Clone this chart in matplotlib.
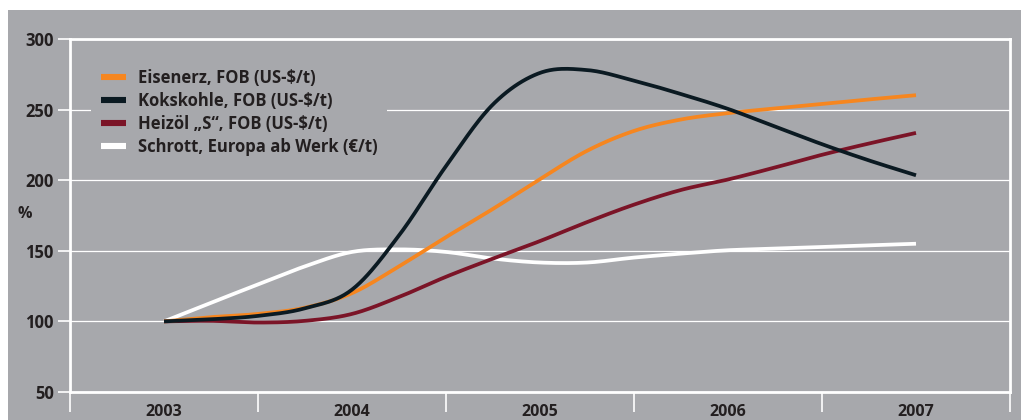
import numpy as np
import matplotlib
matplotlib.use("Agg")
import matplotlib.pyplot as plt
from matplotlib.patches import Rectangle

# Category axis: one slot per year
years = ["2003", "2004", "2005", "2006", "2007"]

# Quarterly sampling positions (years after 2003)
quarters = [0.0, 0.25, 0.5, 0.75, 1.0, 1.25, 1.5, 1.75, 2.0,
            2.25, 2.5, 2.75, 3.0, 3.25, 3.5, 3.75, 4.0]

# Price index, 2003 = 100
eisenerz = [100, 103, 105.3, 109.7, 120, 139, 159.7, 179.7, 200.8,
            220.8, 234.9, 243, 247.5, 250.8, 254, 257.2, 260.2]
kokskohle = [100, 101.5, 103.9, 109.3, 122.5, 160.9, 210, 253.7, 276,
             278, 270.5, 261, 250.5, 238, 225.5, 214, 203.5]
heizoel = [100, 100.4, 99.2, 100.4, 105.3, 117.3, 131.6, 144.5, 156.9,
           170.3, 182.7, 193.1, 200.5, 209, 218, 226, 233.5]
schrott = [100, 113.2, 126.2, 139, 149.2, 151, 149.2, 144.5, 141.7,
           141.7, 145.2, 148, 150.4, 151.5, 152.7, 153.9, 155]

series_labels = ["Eisenerz, FOB (US-$/t)", "Kokskohle, FOB (US-$/t)",
                 "Heizöl \u201eS\u201c, FOB (US-$/t)", "Schrott, Europa ab Werk (€/t)"]
series_colors = ["#f6861f", "#0b1a22", "#7b1427", "#ffffff"]

y_ticks = [50, 100, 150, 200, 250, 300]

BG = "#a7a8ac"
TXT = "#231f20"
FONT = ["Open Sans", "DejaVu Sans"]
WEIGHT = "bold"


def smooth(x, y, n=24):
    """Catmull-Rom spline through the sample points."""
    x = np.asarray(x, float)
    y = np.asarray(y, float)
    m = np.empty_like(y)
    m[1:-1] = (y[2:] - y[:-2]) / (x[2:] - x[:-2])
    m[0] = (y[1] - y[0]) / (x[1] - x[0])
    m[-1] = (y[-1] - y[-2]) / (x[-1] - x[-2])
    xs, ys = [], []
    for i in range(len(x) - 1):
        h = x[i + 1] - x[i]
        t = np.linspace(0, 1, n, endpoint=(i == len(x) - 2))
        h00 = 2 * t**3 - 3 * t**2 + 1
        h10 = t**3 - 2 * t**2 + t
        h01 = -2 * t**3 + 3 * t**2
        h11 = t**3 - t**2
        xs.append(x[i] + t * h)
        ys.append(h00 * y[i] + h10 * h * m[i] + h01 * y[i + 1] + h11 * h * m[i + 1])
    return np.concatenate(xs), np.concatenate(ys)


plt.rcParams["font.family"] = FONT
plt.rcParams["font.weight"] = WEIGHT

fig = plt.figure(figsize=(10.21, 4.20), dpi=100)
fig.patch.set_facecolor("white")
fig.patches.append(Rectangle((8 / 1021, 0), 1 - 8 / 1021, 410 / 420,
                             transform=fig.transFigure, facecolor=BG,
                             edgecolor="none", zorder=-5))

ax = fig.add_axes([70 / 1021, 28 / 420, 940 / 1021, 353 / 420])
ax.set_zorder(1)
ax.set_facecolor(BG)
ax.set_xlim(-0.5, len(years) - 0.5)
ax.set_ylim(50, 300)

for sp in ax.spines.values():
    sp.set_color("white")
    sp.set_linewidth(2.0)

ax.set_yticks(y_ticks)
ax.set_yticklabels([str(v) for v in y_ticks])
ax.yaxis.grid(True, color="white", linewidth=0.9)
ax.set_axisbelow(True)
ax.tick_params(axis="y", colors="white", length=8.6, width=1.2, pad=3,
               labelcolor=TXT, labelsize=12)

ax.set_xticks(range(len(years)))
ax.set_xticklabels(years)
ax.set_xticks(np.arange(-0.5, len(years), 1.0), minor=True)
ax.tick_params(axis="x", which="major", length=0, pad=9, labelcolor=TXT, labelsize=11.5)
ax.tick_params(axis="x", which="minor", colors="white", length=14.4, width=1.2)

fig.text(25 / 1021, 1 - 214 / 420, "%", ha="center", va="center",
         color=TXT, fontsize=11.5, fontweight=WEIGHT, zorder=2)

order = [3, 2, 0, 1]
lines = {}
data = [eisenerz, kokskohle, heizoel, schrott]
for i in order:
    sx, sy = smooth(quarters, data[i])
    ln, = ax.plot(sx, sy, color=series_colors[i], linewidth=2.7,
                  solid_capstyle="butt", label=series_labels[i], zorder=3 + order.index(i))
    lines[i] = ln

leg = ax.legend([lines[i] for i in range(4)], series_labels,
                loc="upper left", bbox_to_anchor=(21 / 940, 1 - 20 / 353),
                borderaxespad=0, frameon=True, fancybox=False,
                facecolor=BG, edgecolor="none", framealpha=1,
                handlelength=1.5, handleheight=0.7, handletextpad=0.72,
                labelspacing=0.31, borderpad=0.58, prop={"size": 12, "weight": WEIGHT})
for t in leg.get_texts():
    t.set_color(TXT)
for h in leg.legend_handles:
    h.set_linewidth(4.4)

fig.savefig("out.png", dpi=100, facecolor=fig.get_facecolor())
